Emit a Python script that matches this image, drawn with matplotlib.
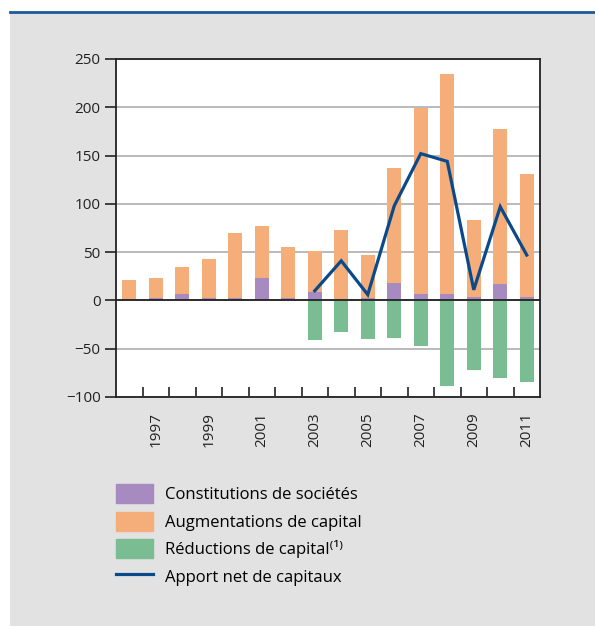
import numpy as np
import matplotlib
matplotlib.use("Agg")
import matplotlib.pyplot as plt
from matplotlib.patches import Patch, Rectangle
from matplotlib.lines import Line2D

plt.rcParams['font.family'] = ['Open Sans', 'DejaVu Sans']

# data
years = list(range(1996, 2012))
constitutions = [1, 3, 7, 3, 3, 23, 3, 9, 1, 2, 18, 7, 7, 4, 17, 4]
totals = [21, 23, 35, 43, 70, 77, 55, 51, 73, 47, 137, 199, 234, 83, 177, 131]
augmentations = [t - c for t, c in zip(totals, constitutions)]
reductions = [0, 0, 0, 0, 0, 0, 0, -41, -33, -40, -39, -47, -89, -72, -80, -84]
net_years = list(range(2003, 2012))
net = [10, 41, 6, 98, 152, 144, 11, 97, 47]

c_purple = '#a78bc0'
c_orange = '#f5ad79'
c_green = '#7bbd93'
c_line = '#0b4a8a'
c_bg = '#e2e2e2'

fig = plt.figure(figsize=(5.95, 6.26), dpi=100, facecolor='white')
# grey panel and blue top rule
fig.add_artist(Rectangle((10/595, 0), 1, 1 - 12/626, transform=fig.transFigure,
                         facecolor=c_bg, edgecolor='none', zorder=0))
fig.add_artist(Line2D([10/595, 1], [1 - 12/626, 1 - 12/626], transform=fig.transFigure,
                      color='#1a5a9c', lw=2))

ax = fig.add_axes([116/595, 1 - 397/626, 424/595, 338/626])
x = np.arange(len(years))
w = 0.53
ax.bar(x, constitutions, w, color=c_purple, zorder=2)
ax.bar(x, augmentations, w, bottom=constitutions, color=c_orange, zorder=2)
ax.bar(x, reductions, w, color=c_green, zorder=2)
xn = [years.index(y) for y in net_years]
ax.plot(xn, net, color=c_line, lw=2.3, zorder=3, solid_joinstyle='miter')

ax.set_xlim(-0.5, len(years) - 0.5)
ax.set_ylim(-100, 250)
ax.set_yticks(range(-100, 251, 50))
ax.set_yticklabels(['\u2212100', '\u221250', '0', '50', '100', '150', '200', '250'])
ax.yaxis.grid(True, color='#b4b4b4', lw=1.3, zorder=0)
ax.axhline(0, color='#222222', lw=1.3, zorder=2.5)
ax.tick_params(axis='y', length=8, width=1.2, pad=3, labelsize=11, colors='#222222')

lab_years = [1997, 1999, 2001, 2003, 2005, 2007, 2009, 2011]
ax.set_xticks([years.index(y) for y in lab_years])
ax.set_xticklabels([str(y) for y in lab_years], rotation=90)
ax.set_xticks(np.arange(0.5, len(years) - 1, 1), minor=True)
ax.tick_params(axis='x', which='major', length=0, pad=11, labelsize=11, colors='#222222')
ax.tick_params(axis='x', which='minor', direction='in', length=7.5, width=1.2, color='#222222')
for s in ax.spines.values():
    s.set_color('#222222')
    s.set_linewidth(1.3)

handles = [Patch(color=c_purple), Patch(color=c_orange), Patch(color=c_green),
           Line2D([], [], color=c_line, lw=2.3)]
labels = ['Constitutions de sociétés', 'Augmentations de capital',
          'Réductions de capital\u207d\u00b9\u207e', 'Apport net de capitaux']
fig.legend(handles, labels, loc='upper left', bbox_to_anchor=(116/595, 1 - 484/626),
           frameon=False, fontsize=12, borderpad=0, borderaxespad=0,
           handlelength=2.2, handleheight=1.4, handletextpad=0.75, labelspacing=0.5)

fig.savefig('out.png', dpi=100, facecolor='white')
